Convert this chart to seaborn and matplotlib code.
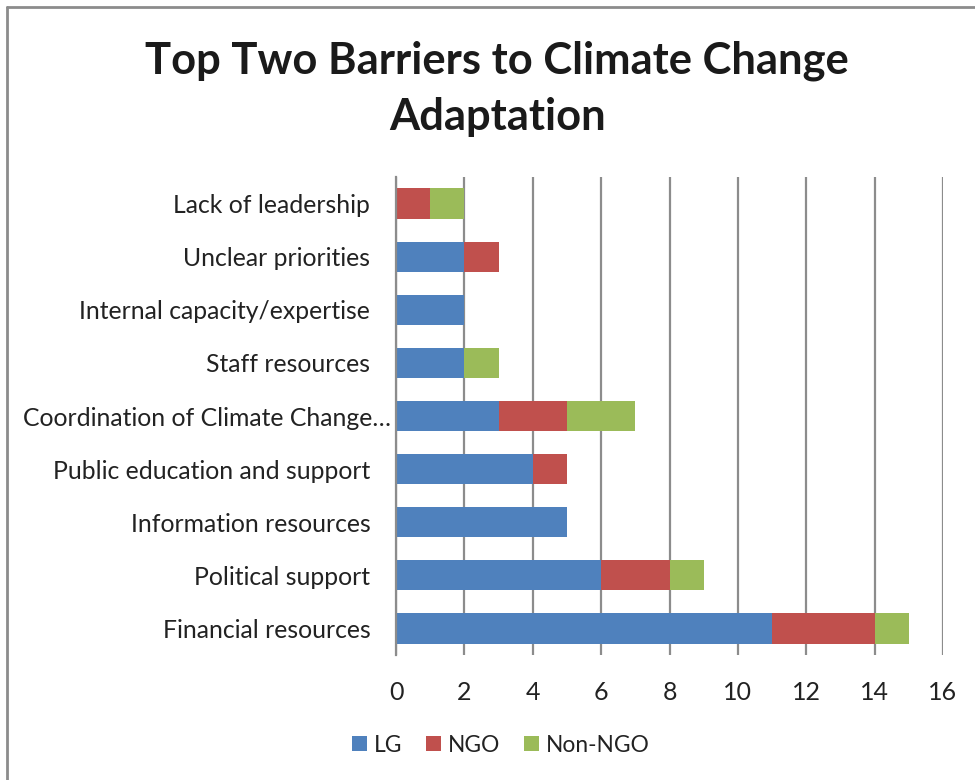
import matplotlib
matplotlib.use("Agg")
import matplotlib.pyplot as plt
from matplotlib.lines import Line2D
from matplotlib.patches import Patch
from matplotlib.transforms import ScaledTranslation
import numpy as np
import pandas as pd
import seaborn as sns

# Survey responses: top two barriers, counted by respondent type
categories = [
    "Lack of leadership",
    "Unclear priorities",
    "Internal capacity/expertise",
    "Staff resources",
    "Coordination of Climate Change\u2026",
    "Public education and support",
    "Information resources",
    "Political support",
    "Financial resources",
]
lg = [0, 2, 2, 2, 3, 4, 5, 6, 11]
ngo = [1, 1, 0, 0, 2, 1, 0, 2, 3]
non_ngo = [1, 0, 0, 1, 2, 0, 0, 1, 1]

series = ["LG", "NGO", "Non-NGO"]
colors = ["#4F81BD", "#C0504D", "#9BBB59"]
x_ticks = [0, 2, 4, 6, 8, 10, 12, 14, 16]

df = pd.DataFrame({"category": categories, "LG": lg, "NGO": ngo, "Non-NGO": non_ngo})
df["cum_LG"] = df["LG"]
df["cum_NGO"] = df["cum_LG"] + df["NGO"]
df["cum_Non-NGO"] = df["cum_NGO"] + df["Non-NGO"]

sns.set_theme(style="white")
plt.rcParams["font.family"] = ["Lato", "DejaVu Sans"]

fig = plt.figure(figsize=(9.75, 7.8), dpi=100)
ax = fig.add_axes([396 / 975, 1 - 655 / 780, 547 / 975, 478 / 780])

# Stacked bars: draw cumulative totals back to front
for name, color in reversed(list(zip(series, colors))):
    sns.barplot(data=df, y="category", x="cum_" + name, color=color,
                orient="h", width=0.57, order=categories, ax=ax,
                saturation=1, edgecolor="none", zorder=3)

ax.set_xlim(0, 16)
ax.set_xticks(x_ticks)
ax.set_xticklabels([str(t) for t in x_ticks])
ax.set_xlabel("")
ax.set_ylabel("")
ax.grid(axis="x", color="#8C8C8C", linewidth=1.6, zorder=0)
ax.set_axisbelow(True)
for side in ["top", "right", "bottom"]:
    ax.spines[side].set_visible(False)
ax.spines["left"].set_color("#8C8C8C")
ax.spines["left"].set_linewidth(1.6)
ax.spines["left"].set_zorder(4)
ax.tick_params(axis="x", length=0, pad=19, labelsize=18, colors="#222222")
ax.tick_params(axis="y", length=0, pad=18.5, labelsize=17.8, colors="#222222")

# The truncated long label sits closer to the axis
for lab in ax.get_yticklabels():
    if lab.get_text().endswith("\u2026"):
        lab.set_transform(lab.get_transform() + ScaledTranslation(0.21, 0, fig.dpi_scale_trans))

# Title
fig.text(0.510, 1 - 61 / 780, "Top Two Barriers to Climate Change",
         ha="center", va="center", fontsize=31.3, fontweight="bold", color="#1a1a1a")
fig.text(0.510, 1 - 117 / 780, "Adaptation",
         ha="center", va="center", fontsize=31.3, fontweight="bold", color="#1a1a1a")

# Legend
handles = [Patch(facecolor=c, edgecolor="none") for c in colors]
fig.legend(handles, series, loc="center", bbox_to_anchor=(501 / 975, 1 - 745 / 780),
           ncol=3, frameon=False, fontsize=16.4, handlelength=0.66, handleheight=0.66,
           handletextpad=0.3, columnspacing=1.05, labelcolor="#222222")

# Outer frame (top and left edges)
fig.add_artist(Line2D([7 / 975, 1.0], [1 - 7 / 780, 1 - 7 / 780],
                      transform=fig.transFigure, color="#8C8C8C", linewidth=2))
fig.add_artist(Line2D([7 / 975, 7 / 975], [0.0, 1 - 7 / 780],
                      transform=fig.transFigure, color="#8C8C8C", linewidth=2))

fig.savefig("out.png", dpi=100)
